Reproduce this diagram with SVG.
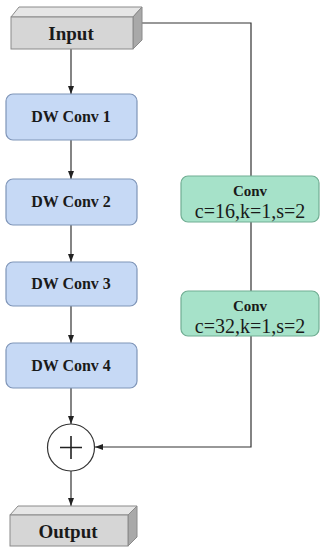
<svg xmlns="http://www.w3.org/2000/svg" width="320" height="548" viewBox="0 0 320 548">
<style>
.bg{fill:#ffffff}
.conn{fill:none;stroke:#333333;stroke-width:1.2}
.front{fill:#d6d6d6;stroke:#8a8a8a;stroke-width:1}
.top{fill:#e6e6e6;stroke:#8a8a8a;stroke-width:1}
.side{fill:#a9a9a9;stroke:#8a8a8a;stroke-width:1}
.dw{fill:#c6d9f5;stroke:#7f95b8;stroke-width:1.2}
.cv{fill:#a6e2c9;stroke:#71ad93;stroke-width:1.2}
text{fill:#1a1a1a;text-anchor:middle}
.b{font-weight:bold}
</style>
<defs>
<marker id="ah" markerUnits="userSpaceOnUse" markerWidth="8" markerHeight="6" refX="8" refY="3" orient="auto">
<path d="M0,0 L8,3 L0,6 z" fill="#222222"/>
</marker>
</defs>
<rect class="bg" x="0" y="0" width="320" height="548"/>
<g id="connectors">
<line class="conn" x1="71" y1="49" x2="71" y2="94" marker-end="url(#ah)"/>
<line class="conn" x1="71" y1="140" x2="71" y2="179" marker-end="url(#ah)"/>
<line class="conn" x1="71" y1="225" x2="71" y2="262" marker-end="url(#ah)"/>
<line class="conn" x1="71" y1="306" x2="71" y2="343" marker-end="url(#ah)"/>
<line class="conn" x1="71" y1="388" x2="71" y2="424" marker-end="url(#ah)"/>
<line class="conn" x1="71" y1="471" x2="71" y2="506" marker-end="url(#ah)"/>
<path class="conn" d="M133,23 H251 V447 H95" marker-end="url(#ah)"/>
</g>
<g font-family="'Liberation Serif', 'Times New Roman', serif">
<g id="input">
<polygon class="top" points="11,17 19,7 142,7 133,17"/>
<polygon class="side" points="133,17 142,7 142,40 133,49"/>
<rect class="front" x="11" y="17" width="122" height="32"/>
<text class="b" x="71" y="40" font-size="19">Input</text>
</g>
<g id="dw1">
<rect class="dw" x="6" y="94" width="131" height="46" rx="7"/>
<text class="b" x="71" y="122" font-size="16">DW Conv 1</text>
</g>
<g id="dw2">
<rect class="dw" x="6" y="179" width="131" height="46" rx="7"/>
<text class="b" x="71" y="207" font-size="16">DW Conv 2</text>
</g>
<g id="dw3">
<rect class="dw" x="6" y="262" width="131" height="44" rx="7"/>
<text class="b" x="71" y="289" font-size="16">DW Conv 3</text>
</g>
<g id="dw4">
<rect class="dw" x="6" y="343" width="131" height="45" rx="7"/>
<text class="b" x="71" y="371" font-size="16">DW Conv 4</text>
</g>
<g id="conv1">
<rect class="cv" x="181" y="176" width="138" height="46" rx="7"/>
<text class="b" x="250" y="196" font-size="15">Conv</text>
<text x="250" y="218" font-size="20">c=16,k=1,s=2</text>
</g>
<g id="conv2">
<rect class="cv" x="181" y="291" width="138" height="45" rx="7"/>
<text class="b" x="250" y="311" font-size="15">Conv</text>
<text x="250" y="333" font-size="20">c=32,k=1,s=2</text>
</g>
<g id="add">
<circle cx="71" cy="447.5" r="23.5" fill="#ffffff" stroke="#333333" stroke-width="1.2"/>
<path d="M60,447.5 H82 M71,436 V459" stroke="#222222" stroke-width="1.6" fill="none"/>
</g>
<g id="output">
<polygon class="top" points="10,515 18,506 137,506 128,515"/>
<polygon class="side" points="128,515 137,506 137,537 128,546"/>
<rect class="front" x="10" y="515" width="118" height="31"/>
<text class="b" x="68" y="538" font-size="19">Output</text>
</g>
</g>
</svg>
